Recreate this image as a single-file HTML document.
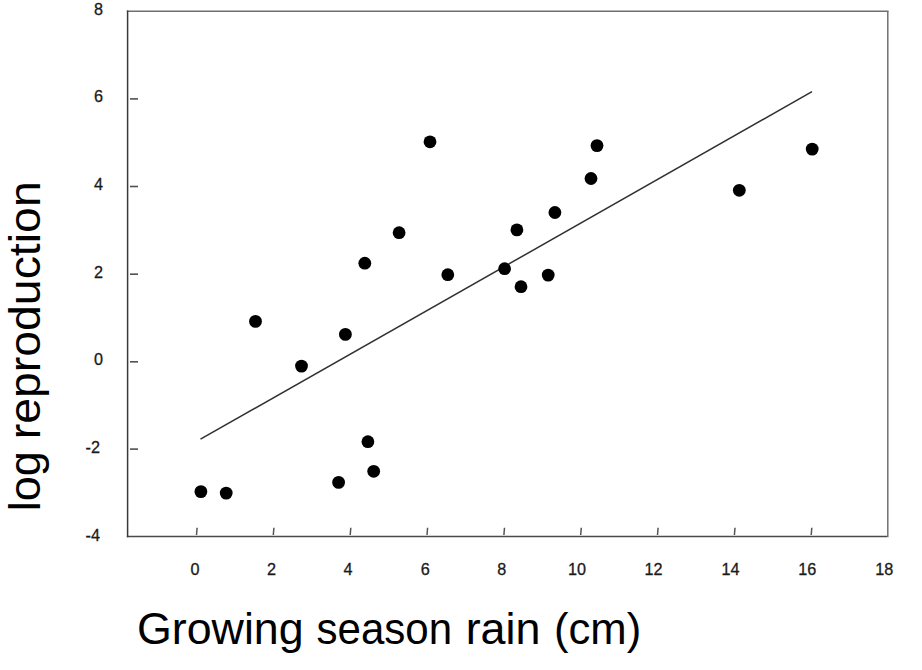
<!DOCTYPE html>
<html><head><meta charset="utf-8"><style>
html,body{margin:0;padding:0;background:#fff;width:922px;height:670px;overflow:hidden}
svg{position:absolute;left:0;top:0}
text{font-family:"Liberation Sans",sans-serif}
</style></head><body>
<svg width="922" height="670" viewBox="0 0 922 670">
<rect x="0" y="0" width="922" height="670" fill="#fff"/>
<g stroke-width="1.5">
<line x1="126.85" y1="11.3" x2="888.55" y2="11.3" stroke="#6e6e6e"/>
<line x1="887.8" y1="11.3" x2="887.8" y2="537.35" stroke="#707070"/>
<line x1="126.85" y1="536.6" x2="887.05" y2="536.6" stroke="#4a4a4a"/>
<line x1="127.6" y1="10.55" x2="127.6" y2="537.35" stroke="#383838"/>
</g>
<g stroke="#505050" stroke-width="1.6"><line x1="130" y1="98.9" x2="138" y2="98.9"/>
<line x1="130" y1="186.5" x2="138" y2="186.5"/>
<line x1="130" y1="274.2" x2="138" y2="274.2"/>
<line x1="130" y1="361.8" x2="138" y2="361.8"/>
<line x1="130" y1="449.1" x2="138" y2="449.1"/></g>
<g stroke="#555" stroke-width="1.5"><line x1="197.1" y1="527.8" x2="196.5" y2="535"/>
<line x1="273.9" y1="527.8" x2="273.3" y2="535"/>
<line x1="350.8" y1="527.8" x2="350.2" y2="535"/>
<line x1="427.6" y1="527.8" x2="427.0" y2="535"/>
<line x1="504.5" y1="527.8" x2="503.9" y2="535"/>
<line x1="581.3" y1="527.8" x2="580.7" y2="535"/>
<line x1="658.1" y1="527.8" x2="657.5" y2="535"/>
<line x1="735.0" y1="527.8" x2="734.4" y2="535"/>
<line x1="811.8" y1="527.8" x2="811.2" y2="535"/></g>
<line x1="200.5" y1="439.2" x2="812" y2="91.7" stroke="#303030" stroke-width="1.5"/>
<g fill="#000"><circle cx="200.9" cy="491.6" r="6.4"/>
<circle cx="226.2" cy="493.1" r="6.4"/>
<circle cx="255.5" cy="321.4" r="6.4"/>
<circle cx="301.5" cy="366.1" r="6.4"/>
<circle cx="345.4" cy="334.4" r="6.4"/>
<circle cx="367.9" cy="441.7" r="6.4"/>
<circle cx="373.7" cy="471.3" r="6.4"/>
<circle cx="338.6" cy="482.4" r="6.4"/>
<circle cx="364.8" cy="263.2" r="6.4"/>
<circle cx="399.1" cy="232.7" r="6.4"/>
<circle cx="430" cy="141.8" r="6.4"/>
<circle cx="447.8" cy="274.7" r="6.4"/>
<circle cx="504.6" cy="268.7" r="6.4"/>
<circle cx="516.9" cy="229.9" r="6.4"/>
<circle cx="521" cy="286.7" r="6.4"/>
<circle cx="548.2" cy="275.1" r="6.4"/>
<circle cx="554.9" cy="212.5" r="6.4"/>
<circle cx="591" cy="178.5" r="6.4"/>
<circle cx="597" cy="145.6" r="6.4"/>
<circle cx="739.3" cy="190.3" r="6.4"/>
<circle cx="812.2" cy="149.1" r="6.4"/></g>
<g font-size="16.2" fill="#1a1a1a" stroke="#1a1a1a" stroke-width="0.3"><text x="102.9" y="15.2" text-anchor="end">8</text>
<text x="102.9" y="102.4" text-anchor="end">6</text>
<text x="102.9" y="189.8" text-anchor="end">4</text>
<text x="102.9" y="277.7" text-anchor="end">2</text>
<text x="102.9" y="365.4" text-anchor="end">0</text>
<text x="100" y="453.1" text-anchor="end">-2</text>
<text x="100" y="540.8" text-anchor="end">-4</text></g>
<g font-size="16.2" fill="#1a1a1a" stroke="#1a1a1a" stroke-width="0.3"><text x="194.9" y="575.2" text-anchor="middle">0</text>
<text x="271.5" y="575.2" text-anchor="middle">2</text>
<text x="348" y="575.2" text-anchor="middle">4</text>
<text x="425.3" y="575.2" text-anchor="middle">6</text>
<text x="501.7" y="575.2" text-anchor="middle">8</text>
<text x="577.1" y="575.2" text-anchor="middle">10</text>
<text x="653.6" y="575.2" text-anchor="middle">12</text>
<text x="730.5" y="575.2" text-anchor="middle">14</text>
<text x="807.2" y="575.2" text-anchor="middle">16</text>
<text x="884.2" y="575.2" text-anchor="middle">18</text></g>
<g font-size="44" fill="#000"><text transform="translate(40,511.3) rotate(-90)" textLength="60.2" lengthAdjust="spacingAndGlyphs">log</text>
<text transform="translate(40,439.3) rotate(-90)" textLength="258.0" lengthAdjust="spacingAndGlyphs">reproduction</text></g>
<g font-size="44" fill="#000"><text x="136.9" y="643.6" textLength="166.8" lengthAdjust="spacingAndGlyphs">Growing</text>
<text x="316.5" y="643.6" textLength="135.6" lengthAdjust="spacingAndGlyphs">season</text>
<text x="465.7" y="643.6" textLength="74.8" lengthAdjust="spacingAndGlyphs">rain</text>
<text x="553.9" y="643.6" textLength="87.3" lengthAdjust="spacingAndGlyphs">(cm)</text></g>
</svg>
</body></html>
